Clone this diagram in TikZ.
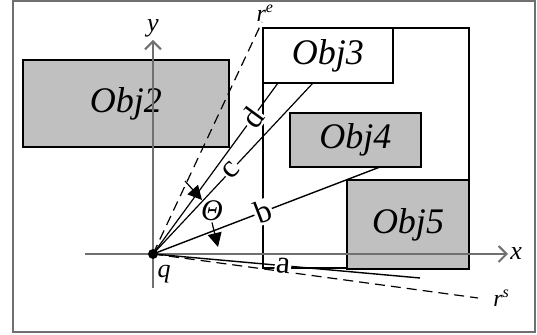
\documentclass[tikz,border=0pt]{standalone}
\usepackage{fontspec}
\setmainfont{Liberation Serif}
\usetikzlibrary{arrows.meta}
\definecolor{objgray}{HTML}{C0C0C0}
\definecolor{axisgray}{HTML}{707070}

\begin{document}
\begin{tikzpicture}[x=0.5pt,y=-0.5pt,
  obj/.style={draw=black,line width=0.8pt,fill=objgray,inner sep=0pt,font=\fontsize{18}{20}\selectfont\itshape},
  ray/.style={line width=0.6pt},
  rayline/.style={line width=0.6pt,dash pattern=on 5pt off 3pt},
  lbl/.style={fill=white,inner sep=0.6pt,sloped,font=\fontsize{16}{17}\selectfont},
  axlbl/.style={inner sep=1pt,font=\fontsize{13}{14}\selectfont\itshape},
  tip/.style={-{Triangle[length=7pt,width=7pt]}}]
\useasboundingbox (0,0) rectangle (537,335);
\draw[axisgray,line width=1.4pt] (13,1) rectangle (535,332);
% objects
\node[obj,minimum width=103pt,minimum height=43.5pt] (obj2) at (126,103.5) {Obj2};
\node[draw,line width=0.8pt,minimum width=103pt,minimum height=120pt] (scan) at (366,148) {};
\node[obj,fill=white,minimum width=65pt,minimum height=27.5pt] (obj3) at (328,55.5) {Obj3};
\node[obj,minimum width=65.5pt,minimum height=27pt] (obj4) at (355.5,140) {Obj4};
\node[obj,minimum width=61pt,minimum height=44.5pt] (obj5) at (408,224.5) {Obj5};
% axes
\coordinate (xl) at (85,254);
\coordinate (xr) at (508,254);
\coordinate (yb) at (153,288);
\coordinate (yt) at (153,40);
\draw[axisgray,line width=1pt,-{Straight Barb[length=4pt,width=8pt]}] (xl) -- (xr);
\draw[axisgray,line width=1pt,-{Straight Barb[length=4pt,width=8pt]}] (yb) -- (yt);
\node[axlbl,right] (xlbl) at (xr) {x};
\node[axlbl,above] (ylbl) at (yt) {y};
% query point and rays
\node[circle,fill=black,inner sep=0pt,minimum size=5pt] (q) at (153,254) {};
\node[axlbl] (qlbl) at (164,274) {q};
\coordinate (re) at (262,22);
\coordinate (dend) at (278,83);
\coordinate (cend) at (313,83);
\coordinate (bend) at (380,167);
\coordinate (aend) at (420,278);
\coordinate (rs) at (478,298);
\draw[rayline] (q.center) -- (re) node[above right,inner sep=0pt,xshift=-3pt,font=\fontsize{12}{13}\selectfont\itshape] {r\textsuperscript{e}};
\draw[rayline] (q.center) -- (rs) node[right,xshift=4pt,font=\fontsize{12}{13}\selectfont\itshape] {r\textsuperscript{s}};
\draw[ray] (q.center) -- node[lbl,pos=0.795] {d} (dend);
\draw[ray] (q.center) -- node[lbl,pos=0.49] {c} (cend);
\draw[ray,line width=0.7pt] (q.center) -- node[lbl,pos=0.485] {b} (bend);
\draw[ray,line width=0.7pt] (q.center) -- node[lbl,pos=0.487] {a} (aend);
% angle
\node[inner sep=0.5pt,font=\fontsize{15}{16}\selectfont\itshape] (theta) at (212,211) {Θ};
\coordinate (t1s) at (185,181);
\coordinate (t1e) at (202,200);
\coordinate (t2e) at (218,247);
\draw[ray,tip] (t1s) -- (t1e);
\draw[ray,tip] (theta.south) -- (t2e);
\end{tikzpicture}
\end{document}
